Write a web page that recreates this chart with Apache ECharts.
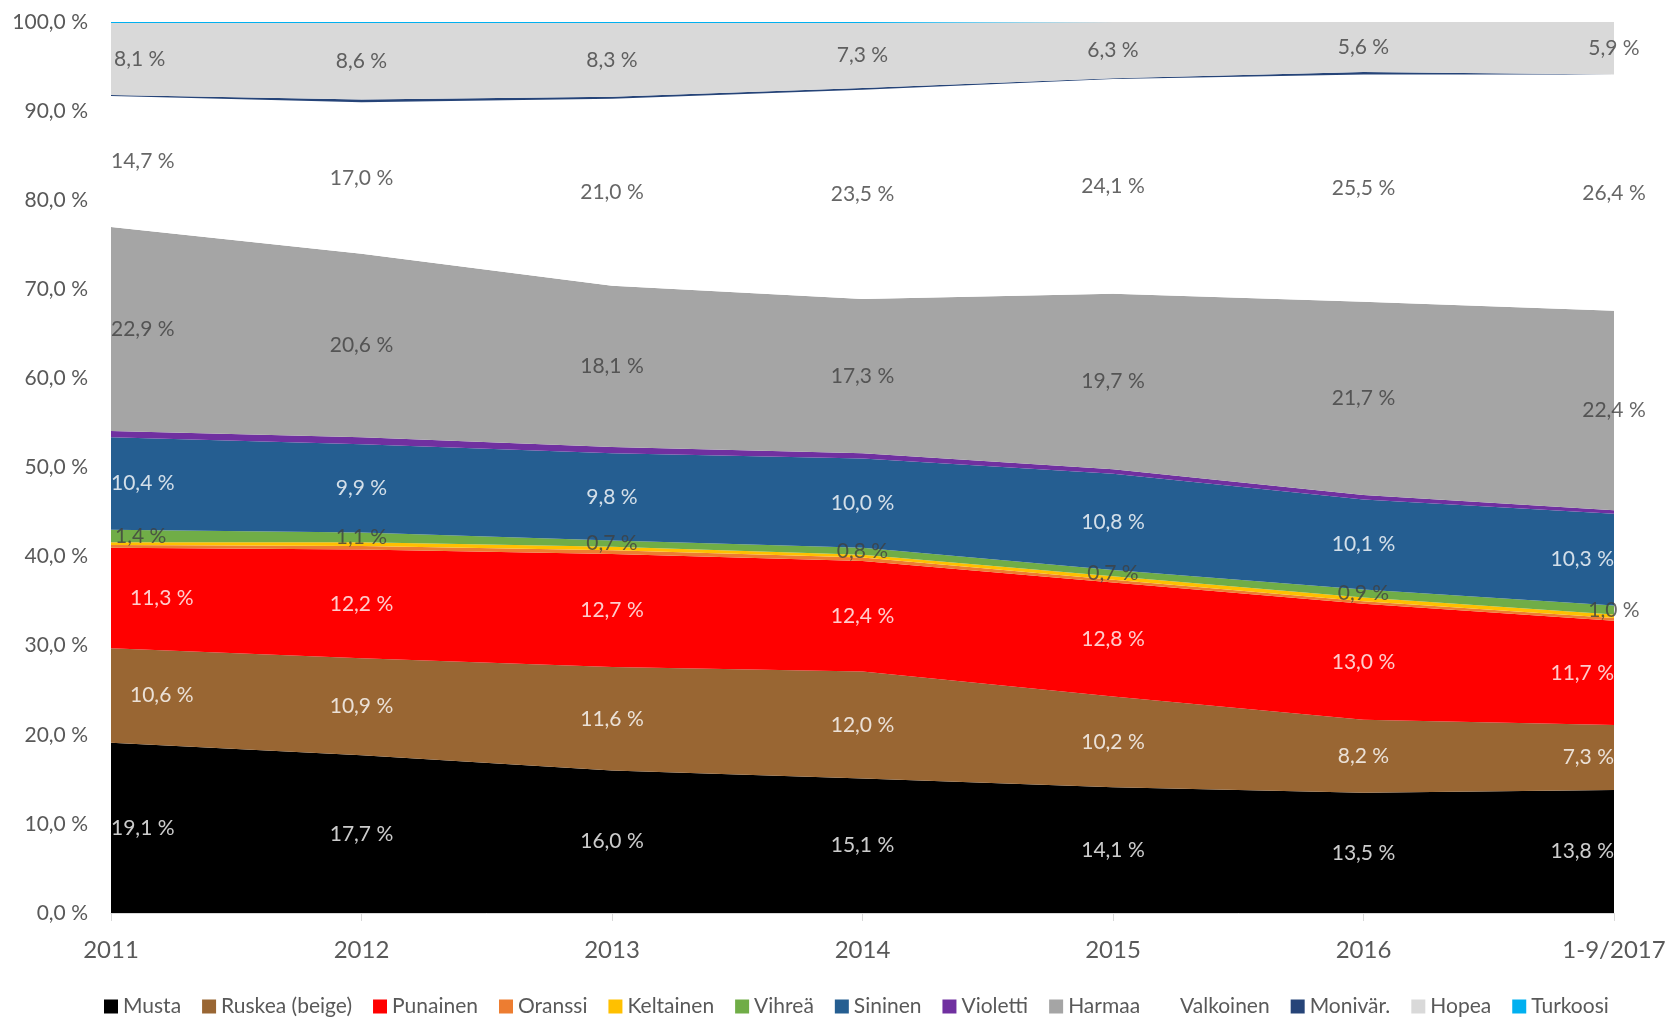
<!DOCTYPE html>
<html>
<head>
<meta charset="utf-8">
<script src="https://cdn.jsdelivr.net/npm/echarts@6/dist/echarts.min.js"></script>
<style>
html,body{margin:0;padding:0;background:#fff;}
#chart{width:1675px;height:1018px;}
</style>
</head>
<body>
<div id="chart"></div>
<script>
var categories = ['2011','2012','2013','2014','2015','2016','1-9/2017'];
var musta     = [19.1,17.7,16.0,15.1,14.1,13.5,13.8];
var ruskea    = [10.6,10.9,11.6,12.0,10.2,8.2,7.3];
var punainen  = [11.3,12.2,12.7,12.4,12.8,13.0,11.7];
var oranssi   = [0.3,0.4,0.4,0.4,0.3,0.3,0.3];
var keltainen = [0.3,0.4,0.4,0.3,0.4,0.4,0.4];
var vihrea    = [1.4,1.1,0.7,0.8,0.7,0.9,1.0];
var sininen   = [10.4,9.9,9.8,10.0,10.8,10.1,10.3];
var violetti  = [0.7,0.8,0.7,0.6,0.5,0.5,0.4];
var harmaa    = [22.9,20.6,18.1,17.3,19.7,21.7,22.4];
var valkoinen = [14.7,17.0,21.0,23.5,24.1,25.5,26.4];
var monivar   = [0.1,0.3,0.2,0.2,0.1,0.3,0.1];
var hopea     = [8.1,8.6,8.3,7.3,6.3,5.6,5.9];
var turkoosi  = [0.1,0.1,0.1,0.1,0.0,0.0,0.0];
var yTicks = [0,10,20,30,40,50,60,70,80,90,100];

var seriesDefs = [
  {name:'Musta', data:musta, color:'#000000', label:'#ffffff', lastAlign:'right', firstDist:0},
  {name:'Ruskea (beige)', data:ruskea, color:'#996633', label:'#ffffff', lastAlign:'right', firstDist:19},
  {name:'Punainen', data:punainen, color:'#ff0000', label:'#ffffff', lastAlign:'right', firstDist:19},
  {name:'Oranssi', data:oranssi, color:'#ed7d31'},
  {name:'Keltainen', data:keltainen, color:'#ffc000'},
  {name:'Vihreä', data:vihrea, color:'#70ad47', label:'#404040', lastAlign:'center', firstDist:4},
  {name:'Sininen', data:sininen, color:'#255e91', label:'#ffffff', lastAlign:'right', firstDist:0},
  {name:'Violetti', data:violetti, color:'#7030a0'},
  {name:'Harmaa', data:harmaa, color:'#a5a5a5', label:'#404040', lastAlign:'center', firstDist:0},
  {name:'Valkoinen', data:valkoinen, color:'#ffffff', label:'#404040', lastAlign:'center', firstDist:0},
  {name:'Monivär.', data:monivar, color:'#264478'},
  {name:'Hopea', data:hopea, color:'#d9d9d9', label:'#404040', lastAlign:'center', firstDist:3},
  {name:'Turkoosi', data:turkoosi, color:'#00b0f0'}
];

function fmt(v){ return v.toFixed(1).replace('.', ',') + ' %'; }

var FONT = 'Lato';
var series = [];
var base = categories.map(function(){return 0;});
seriesDefs.forEach(function(d){
  series.push({
    name:d.name, type:'line', stack:'total', data:d.data,
    showSymbol:false, symbol:'none',
    lineStyle:{width:0, color:d.color},
    itemStyle:{color:d.color},
    areaStyle:{color:d.color, opacity:1},
    emphasis:{disabled:true},
    z:2
  });
  if (d.label) {
    var items = d.data.map(function(v,i){
      var lab = {};
      if (i === 0) { lab = {position:'right', distance:d.firstDist}; }
      else if (i === categories.length-1 && d.lastAlign === 'right') { lab = {position:'left', distance:0}; }
      return {value:[i, base[i] + v/2], raw:v, label:lab};
    });
    series.push({
      type:'scatter', name:d.name + '_lbl', data:items, symbolSize:0,
      silent:true, z:10,
      label:{show:true, position:'inside', color:d.label, fontFamily:FONT, fontSize:21,
        formatter:function(p){ return fmt(p.data.raw); }}
    });
  }
  d.data.forEach(function(v,i){ base[i] += v; });
});

var chart = echarts.init(document.getElementById('chart'), null, {renderer:'canvas'});
chart.setOption({
  animation:false,
  backgroundColor:'#ffffff',
  grid:{left:111, right:61, top:22, bottom:105},
  legend:{
    data:seriesDefs.map(function(d){return d.name;}),
    top:991, left:99, icon:'rect', itemWidth:14, itemHeight:14, itemGap:21,
    textStyle:{color:'#595959', fontFamily:FONT, fontSize:21},
    selectedMode:false
  },
  xAxis:{
    type:'category', data:categories, boundaryGap:false,
    axisLine:{show:true, lineStyle:{color:'#d9d9d9', width:1}},
    axisTick:{show:true, length:8, lineStyle:{color:'#d9d9d9'}},
    axisLabel:{color:'#595959', fontFamily:FONT, fontSize:24, margin:25},
    splitLine:{show:false}
  },
  yAxis:{
    type:'value', min:yTicks[0], max:yTicks[yTicks.length-1], interval:yTicks[1]-yTicks[0],
    axisLine:{show:false}, axisTick:{show:false}, splitLine:{show:false},
    axisLabel:{color:'#595959', fontFamily:FONT, fontSize:21, margin:23,
      formatter:function(v){ return fmt(v); }}
  },
  series:series
});
</script>
</body>
</html>
